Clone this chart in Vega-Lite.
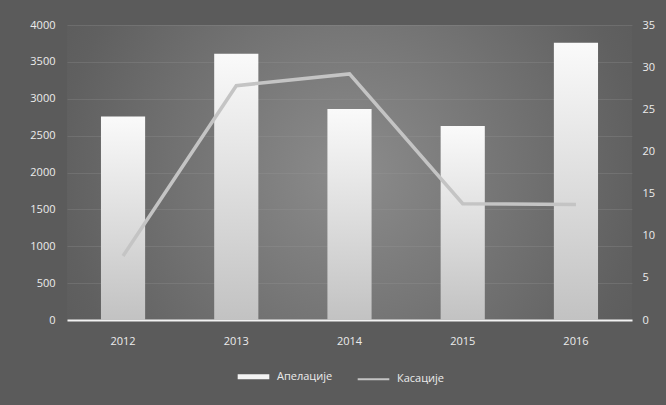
{
  "$schema": "https://vega.github.io/schema/vega-lite/v6.json",
  "autosize": "none",
  "width": 565,
  "height": 295,
  "padding": {"left": 67, "top": 25, "right": 34, "bottom": 85},
  "background": "#5b5b5b",
  "config": {
    "view": {"stroke": null, "fill": {"gradient": "radial", "x1": 0.5, "y1": 0.5, "r1": 0, "x2": 0.5, "y2": 0.5, "r2": 0.6, "stops": [{"offset": 0, "color": "#8c8c8c"}, {"offset": 0.85, "color": "#606060"}, {"offset": 1, "color": "#5b5b5b"}]}},
    "font": "Open Sans",
    "axis": {"labelColor": "#ececec", "labelFontSize": 11, "labelFont": "Open Sans", "ticks": false, "domain": false, "title": null},
    "legend": {"labelColor": "#ececec", "labelFontSize": 11, "labelFont": "Open Sans"}
  },
  "data": {
    "values": [
      {"year": "2012", "apel": 2760, "kas": 7.6},
      {"year": "2013", "apel": 3610, "kas": 27.8},
      {"year": "2014", "apel": 2860, "kas": 29.2},
      {"year": "2015", "apel": 2630, "kas": 13.8},
      {"year": "2016", "apel": 3760, "kas": 13.7}
    ]
  },
  "encoding": {
    "x": {"field": "year", "type": "ordinal", "scale": {"paddingInner": 0.61, "paddingOuter": 0.3}, "axis": {"labelAngle": 0, "labelPadding": 15, "domain": true, "domainColor": "#f2f2f2", "domainWidth": 2, "grid": false}}
  },
  "layer": [
    {
      "mark": {"type": "bar", "color": {"gradient": "linear", "x1": 0, "y1": 0, "x2": 0, "y2": 1, "stops": [{"offset": 0, "color": "#fafafa"}, {"offset": 0.5, "color": "#dedede"}, {"offset": 1, "color": "#c2c2c2"}]}},
      "encoding": {
        "y": {"field": "apel", "type": "quantitative", "scale": {"domain": [0, 4000]}, "axis": {"orient": "left", "format": "d", "values": [0, 500, 1000, 1500, 2000, 2500, 3000, 3500, 4000], "labelPadding": 12, "grid": true, "gridColor": "#9a9a9a", "gridOpacity": 0.25}}
      }
    },
    {
      "mark": {"type": "line", "strokeWidth": 3.5},
      "encoding": {
        "y": {"field": "kas", "type": "quantitative", "scale": {"domain": [0, 35]}, "axis": {"orient": "right", "values": [0, 5, 10, 15, 20, 25, 30, 35], "labelPadding": 10, "grid": false}},
        "color": {"datum": "Касације", "type": "nominal", "scale": {"domain": ["Апелације", "Касације"], "range": ["#f4f4f4", "#c4c4c4"]},
          "legend": {"title": null, "orient": "none", "legendX": 181, "legendY": 346, "direction": "horizontal", "symbolType": "stroke", "symbolSize": 1000, "labelOffset": 18, "columnPadding": 20,
            "encode": {"symbols": {"update": {"strokeWidth": {"signal": "datum.value === 'Апелације' ? 5 : 2"}}}}}}
      }
    }
  ],
  "resolve": {"scale": {"y": "independent"}}
}
